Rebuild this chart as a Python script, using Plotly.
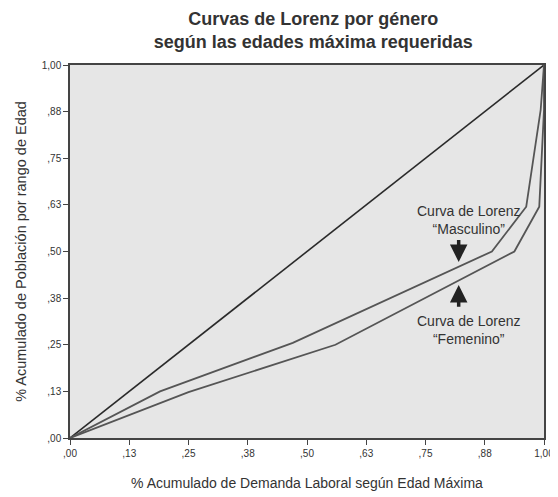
import plotly.graph_objects as go

# Data
equality_x = [0.0, 1.0]
equality_y = [0.0, 1.0]

masc_x = [0.0, 0.19, 0.47, 0.89, 0.9625, 0.993, 1.0]
masc_y = [0.0, 0.125, 0.255, 0.50, 0.62, 0.88, 1.0]

fem_x = [0.0, 0.25, 0.56, 0.9375, 0.99, 1.0, 1.0]
fem_y = [0.0, 0.123, 0.25, 0.50, 0.62, 0.88, 1.0]

tick_vals = [0, 0.125, 0.25, 0.375, 0.5, 0.625, 0.75, 0.875, 1.0]
tick_text = [",00", ",13", ",25", ",38", ",50", ",63", ",75", ",88", "1,00"]

title_text = "Curvas de Lorenz por género<br>según las edades máxima requeridas"
x_title = "% Acumulado de Demanda Laboral según Edad Máxima"
y_title = "% Acumulado de Población por rango de Edad"
label_masc = "Curva de Lorenz<br>“Masculino”"
label_fem = "Curva de Lorenz<br>“Femenino”"

FONT = "Liberation Sans, Arial, sans-serif"

fig = go.Figure()
fig.add_trace(go.Scatter(x=equality_x, y=equality_y, mode="lines",
                         line=dict(color="#2a2a2a", width=1.6), showlegend=False))
fig.add_trace(go.Scatter(x=masc_x, y=masc_y, mode="lines",
                         line=dict(color="#555555", width=1.8), showlegend=False))
fig.add_trace(go.Scatter(x=fem_x, y=fem_y, mode="lines",
                         line=dict(color="#555555", width=1.8), showlegend=False))

axis_common = dict(
    range=[0, 1], tickvals=tick_vals, ticktext=tick_text,
    showgrid=False, zeroline=False, showline=True, mirror=True,
    linecolor="#444444", linewidth=1.5, ticks="outside", ticklen=5,
    tickcolor="#444444", tickwidth=1.2,
    tickfont=dict(family=FONT, size=10, color="#333333"),
)

fig.update_layout(
    width=558, height=497,
    paper_bgcolor="white", plot_bgcolor="#e6e6e6",
    margin=dict(l=60, r=18, t=57, b=67),
    title=dict(text="<b>" + title_text + "</b>", x=0.547, xanchor="center",
               y=0.966, yanchor="top",
               font=dict(family=FONT, size=18, color="#333333")),
    xaxis=dict(**axis_common,
               title=dict(text=x_title, standoff=20,
                          font=dict(family=FONT, size=14, color="#333333"))),
    yaxis=dict(**axis_common,
               title=dict(text=y_title, standoff=12,
                          font=dict(family=FONT, size=14.5, color="#333333"))),
)

# Labels
fig.add_annotation(x=0.841, y=0.585, text=label_masc, showarrow=False,
                   font=dict(family=FONT, size=14, color="#333333"))
fig.add_annotation(x=0.841, y=0.29, text=label_fem, showarrow=False,
                   font=dict(family=FONT, size=14, color="#333333"))
# Arrows
fig.add_annotation(x=0.82, y=0.472, ax=0.82, ay=0.535, axref="x", ayref="y",
                   xref="x", yref="y", text="", showarrow=True,
                   arrowhead=2, arrowsize=1, arrowwidth=3.5, arrowcolor="#222222")
fig.add_annotation(x=0.82, y=0.41, ax=0.82, ay=0.348, axref="x", ayref="y",
                   xref="x", yref="y", text="", showarrow=True,
                   arrowhead=2, arrowsize=1, arrowwidth=3.5, arrowcolor="#222222")

fig.write_html("out.html")
